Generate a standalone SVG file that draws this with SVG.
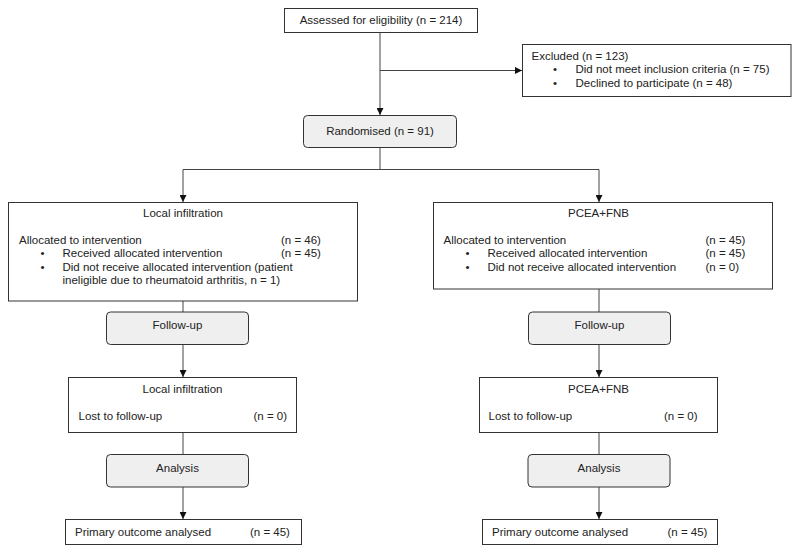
<svg xmlns="http://www.w3.org/2000/svg" width="800" height="557" viewBox="0 0 800 557">
<style>
text{font-family:"Liberation Sans",Arial,sans-serif;font-size:11.5px;fill:#222}
.box{fill:#fff;stroke:#333;stroke-width:1}
.gbox{fill:#efefef;stroke:#333;stroke-width:1}
.c{text-anchor:middle}
.ln{fill:none;stroke:#444;stroke-width:1}
</style>
<defs>
<marker id="ah" viewBox="0 0 10 10" refX="10" refY="5" markerWidth="7" markerHeight="7" markerUnits="userSpaceOnUse" orient="auto">
<path d="M0,0 L10,5 L0,10 Z" fill="#111"/>
</marker>
</defs>
<g id="connectors">
<path class="ln" d="M380,32 V115" marker-end="url(#ah)"/>
<path class="ln" d="M380,70.5 H522" marker-end="url(#ah)"/>
<path class="ln" d="M380,148 V169.5"/>
<path class="ln" d="M183,169.5 H599"/>
<path class="ln" d="M183,169.5 V202" marker-end="url(#ah)"/>
<path class="ln" d="M599,169.5 V202" marker-end="url(#ah)"/>
<path class="ln" d="M183,301 V312"/>
<path class="ln" d="M599,289 V312"/>
<path class="ln" d="M183,344 V377" marker-end="url(#ah)"/>
<path class="ln" d="M599,344 V377" marker-end="url(#ah)"/>
<path class="ln" d="M183,432 V454"/>
<path class="ln" d="M599,432 V454"/>
<path class="ln" d="M183,487 V519" marker-end="url(#ah)"/>
<path class="ln" d="M599,487 V519" marker-end="url(#ah)"/>
</g>
<g id="assessed">
<rect class="box" x="284.5" y="8.5" width="193" height="24"/>
<text class="c" x="381" y="24">Assessed for eligibility (n = 214)</text>
</g>
<g id="excluded">
<rect class="box" x="522.5" y="44.5" width="268.5" height="52"/>
<text x="531.5" y="60">Excluded (n = 123)</text>
<text x="553" y="73">•</text>
<text x="575.5" y="73">Did not meet inclusion criteria (n = 75)</text>
<text x="553" y="87">•</text>
<text x="575.5" y="87">Declined to participate (n = 48)</text>
</g>
<g id="randomised">
<rect class="gbox" x="303.5" y="115.5" width="153" height="32" rx="4"/>
<text class="c" x="380" y="135">Randomised (n = 91)</text>
</g>
<g id="alloc-left">
<rect class="box" x="8.5" y="202.5" width="349" height="98.5"/>
<text class="c" x="183" y="217">Local infiltration</text>
<text x="19" y="243.5">Allocated to intervention</text>
<text x="281" y="243.5">(n = 46)</text>
<text x="40.5" y="257">•</text>
<text x="62.5" y="257">Received allocated intervention</text>
<text x="281" y="257">(n = 45)</text>
<text x="40.5" y="270.5">•</text>
<text x="62.5" y="270.5">Did not receive allocated intervention (patient</text>
<text x="62.5" y="283.5">ineligible due to rheumatoid arthritis, n = 1)</text>
</g>
<g id="alloc-right">
<rect class="box" x="433.5" y="202.5" width="339" height="86.5"/>
<text class="c" x="598.5" y="217">PCEA+FNB</text>
<text x="443.5" y="243.5">Allocated to intervention</text>
<text x="705.5" y="243.5">(n = 45)</text>
<text x="465.5" y="257">•</text>
<text x="487.5" y="257">Received allocated intervention</text>
<text x="705.5" y="257">(n = 45)</text>
<text x="465.5" y="270.5">•</text>
<text x="487.5" y="270.5">Did not receive allocated intervention</text>
<text x="705.5" y="270.5">(n = 0)</text>
</g>
<g id="followup-left">
<rect class="gbox" x="106.5" y="312" width="142" height="32.5" rx="4"/>
<text class="c" x="177.5" y="329">Follow-up</text>
</g>
<g id="followup-right">
<rect class="gbox" x="528.5" y="312" width="142" height="32.5" rx="4"/>
<text class="c" x="599.5" y="329">Follow-up</text>
</g>
<g id="lost-left">
<rect class="box" x="68.5" y="377.5" width="228" height="55"/>
<text class="c" x="182.5" y="393">Local infiltration</text>
<text x="78.5" y="419.5">Lost to follow-up</text>
<text x="253.5" y="419.5">(n = 0)</text>
</g>
<g id="lost-right">
<rect class="box" x="479.5" y="377.5" width="238" height="55"/>
<text class="c" x="598.5" y="393">PCEA+FNB</text>
<text x="488.5" y="419.5">Lost to follow-up</text>
<text x="664" y="419.5">(n = 0)</text>
</g>
<g id="analysis-left">
<rect class="gbox" x="106.5" y="454.5" width="142" height="32.5" rx="4"/>
<text class="c" x="177.5" y="471.5">Analysis</text>
</g>
<g id="analysis-right">
<rect class="gbox" x="528" y="454.5" width="142" height="32.5" rx="4"/>
<text class="c" x="599" y="471.5">Analysis</text>
</g>
<g id="primary-left">
<rect class="box" x="65.5" y="519.5" width="236" height="25"/>
<text x="75" y="536">Primary outcome analysed</text>
<text x="250" y="536">(n = 45)</text>
</g>
<g id="primary-right">
<rect class="box" x="482.5" y="519.5" width="235" height="25"/>
<text x="492" y="536">Primary outcome analysed</text>
<text x="667.5" y="536">(n = 45)</text>
</g>
</svg>
